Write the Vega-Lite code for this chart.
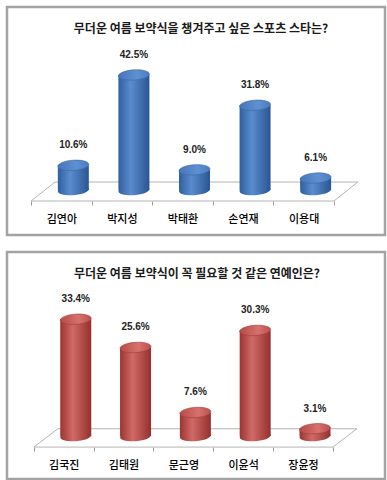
{
  "$schema": "https://vega.github.io/schema/vega-lite/v6.json",
  "background": "white",
  "padding": {"left": 5, "top": 5, "right": 0, "bottom": 0},
  "spacing": 13,
  "config": {
    "view": {"stroke": "#a3a3a3", "strokeWidth": 2.5},
    "font": "Noto Sans CJK KR"
  },
  "datasets": {
    "sports": [
      {"name": "김연아", "pct": 0.106},
      {"name": "박지성", "pct": 0.425},
      {"name": "박태환", "pct": 0.090},
      {"name": "손연재", "pct": 0.318},
      {"name": "이용대", "pct": 0.061}
    ],
    "celeb": [
      {"name": "김국진", "pct": 0.334},
      {"name": "김태원", "pct": 0.256},
      {"name": "문근영", "pct": 0.076},
      {"name": "이윤석", "pct": 0.303},
      {"name": "장윤정", "pct": 0.031}
    ],
    "one": [{"k": 1}]
  },
  "vconcat": [
    {
      "width": 378,
      "height": 228,
      "title": {"text": "무더운 여름 보약식을 챙겨주고 싶은 스포츠 스타는?", "fontSize": 12, "fontWeight": "bold", "color": "#1a1a1a", "font": "Noto Sans CJK KR", "baseline": "middle", "offset": -34, "dx": 5},
      "layer": [
        {"data": {"name": "sports"},
         "mark": {"type": "bar", "width": 31, "xOffset": 12, "opacity": 0},
         "encoding": {
           "x": {"field": "name", "type": "nominal",
             "scale": {"domain": ["김연아", "박지성", "박태환", "손연재", "이용대"], "paddingInner": 0, "paddingOuter": 0.62, "align": 0.32},
             "axis": {"orient": "bottom", "offset": -34, "domain": false, "ticks": true, "tickBand": "extent", "tickSize": 4, "tickColor": "#9a9a9a", "labelFontSize": 11, "labelFontWeight": 500, "labelPadding": 8, "labelAngle": 0, "labelColor": "#000", "labelFont": "Noto Sans CJK KR", "title": null, "grid": false}},
           "y": {"field": "pct", "type": "quantitative", "scale": {"domain": [-0.14, 0.665], "nice": false, "zero": false}, "axis": null},
           "y2": {"datum": 0.0187}}},
        {"data": {"name": "one"},
         "mark": {"type": "rule", "color": "#b5b5b5", "strokeWidth": 1},
         "encoding": {"x": {"datum": "김연아", "bandPosition": 0}, "x2": {"datum": "이용대", "bandPosition": 1}, "y": {"datum": -0.02}}},
        {"data": {"name": "one"},
         "mark": {"type": "rule", "color": "#b5b5b5", "strokeWidth": 1, "xOffset": 24, "x2Offset": 24},
         "encoding": {"x": {"datum": "김연아", "bandPosition": 0}, "x2": {"datum": "이용대", "bandPosition": 1}, "y": {"datum": 0.047}}},
        {"data": {"name": "one"},
         "mark": {"type": "rule", "color": "#b5b5b5", "strokeWidth": 1, "x2Offset": 24},
         "encoding": {"x": {"datum": "김연아", "bandPosition": 0}, "x2": {"datum": "김연아", "bandPosition": 0}, "y": {"datum": -0.02}, "y2": {"datum": 0.047}}},
        {"data": {"name": "one"},
         "mark": {"type": "rule", "color": "#b5b5b5", "strokeWidth": 1, "x2Offset": 24},
         "encoding": {"x": {"datum": "이용대", "bandPosition": 1}, "x2": {"datum": "이용대", "bandPosition": 1}, "y": {"datum": -0.02}, "y2": {"datum": 0.047}}},
        {"data": {"name": "sports"},
         "mark": {"type": "point", "shape": "M-1,0A1,0.33,0,1,1,1,0A1,0.33,0,1,1,-1,0Z", "size": 961, "xOffset": 12, "angle": -4, "filled": true, "opacity": 1,
           "fill": {"gradient": "linear", "x1": 0, "x2": 1, "y1": 0, "y2": 0, "stops": [{"offset": 0, "color": "#305f9f"}, {"offset": 0.4, "color": "#5a8cce"}, {"offset": 1, "color": "#2a5592"}]}},
         "encoding": {"x": {"field": "name", "type": "nominal"}, "y": {"datum": 0.0187}}},
        {"data": {"name": "sports"},
         "mark": {"type": "bar", "width": 31, "xOffset": 12,
           "fill": {"gradient": "linear", "x1": 0, "x2": 1, "y1": 0, "y2": 0, "stops": [{"offset": 0, "color": "#305f9f"}, {"offset": 0.4, "color": "#5a8cce"}, {"offset": 1, "color": "#2a5592"}]}},
         "encoding": {"x": {"field": "name", "type": "nominal"}, "y": {"field": "pct", "type": "quantitative"}, "y2": {"datum": 0.0187}}},
        {"data": {"name": "sports"},
         "mark": {"type": "point", "shape": "M-1,0A1,0.33,0,1,1,1,0A1,0.33,0,1,1,-1,0Z", "size": 961, "xOffset": 12, "angle": -4, "filled": true, "opacity": 1,
           "fill": {"gradient": "linear", "x1": 0, "x2": 1, "y1": 0, "y2": 0, "stops": [{"offset": 0, "color": "#4676b8"}, {"offset": 0.6, "color": "#5f90d2"}, {"offset": 1, "color": "#4a7cc0"}]},
           "stroke": "#3b68a8", "strokeWidth": 0.6},
         "encoding": {"x": {"field": "name", "type": "nominal"}, "y": {"field": "pct", "type": "quantitative"}}},
        {"data": {"name": "sports"},
         "mark": {"type": "text", "dy": -20, "xOffset": 12, "font": "Liberation Sans", "fontWeight": "bold", "fontSize": 10, "color": "#222", "baseline": "middle"},
         "encoding": {"x": {"field": "name", "type": "nominal"}, "y": {"field": "pct", "type": "quantitative"}, "text": {"field": "pct", "type": "quantitative", "format": ".1%"}}}
      ]
    },
    {
      "width": 378,
      "height": 227,
      "title": {"text": "무더운 여름 보약식이 꼭 필요할 것 같은 연예인은?", "fontSize": 12, "fontWeight": "bold", "color": "#1a1a1a", "font": "Noto Sans CJK KR", "baseline": "middle", "offset": -34, "dx": 1},
      "layer": [
        {"data": {"name": "celeb"},
         "mark": {"type": "bar", "width": 31, "xOffset": 12, "opacity": 0},
         "encoding": {
           "x": {"field": "name", "type": "nominal",
             "scale": {"domain": ["김국진", "김태원", "문근영", "이윤석", "장윤정"], "paddingInner": 0, "paddingOuter": 0.66, "align": 0.34},
             "axis": {"orient": "bottom", "offset": -32, "domain": false, "ticks": true, "tickBand": "extent", "tickSize": 4, "tickColor": "#9a9a9a", "labelFontSize": 11, "labelFontWeight": 500, "labelPadding": 8, "labelAngle": 0, "labelColor": "#000", "labelFont": "Noto Sans CJK KR", "title": null, "grid": false}},
           "y": {"field": "pct", "type": "quantitative", "scale": {"domain": [-0.108, 0.52], "nice": false, "zero": false}, "axis": null},
           "y2": {"datum": 0.0108}}},
        {"data": {"name": "one"},
         "mark": {"type": "rule", "color": "#b5b5b5", "strokeWidth": 1},
         "encoding": {"x": {"datum": "김국진", "bandPosition": 0}, "x2": {"datum": "장윤정", "bandPosition": 1}, "y": {"datum": -0.0197}}},
        {"data": {"name": "one"},
         "mark": {"type": "rule", "color": "#b5b5b5", "strokeWidth": 1, "xOffset": 24, "x2Offset": 24},
         "encoding": {"x": {"datum": "김국진", "bandPosition": 0}, "x2": {"datum": "장윤정", "bandPosition": 1}, "y": {"datum": 0.031}}},
        {"data": {"name": "one"},
         "mark": {"type": "rule", "color": "#b5b5b5", "strokeWidth": 1, "x2Offset": 24},
         "encoding": {"x": {"datum": "김국진", "bandPosition": 0}, "x2": {"datum": "김국진", "bandPosition": 0}, "y": {"datum": -0.0197}, "y2": {"datum": 0.031}}},
        {"data": {"name": "one"},
         "mark": {"type": "rule", "color": "#b5b5b5", "strokeWidth": 1, "x2Offset": 24},
         "encoding": {"x": {"datum": "장윤정", "bandPosition": 1}, "x2": {"datum": "장윤정", "bandPosition": 1}, "y": {"datum": -0.0197}, "y2": {"datum": 0.031}}},
        {"data": {"name": "celeb"},
         "mark": {"type": "point", "shape": "M-1,0A1,0.33,0,1,1,1,0A1,0.33,0,1,1,-1,0Z", "size": 961, "xOffset": 12, "angle": -4, "filled": true, "opacity": 1,
           "fill": {"gradient": "linear", "x1": 0, "x2": 1, "y1": 0, "y2": 0, "stops": [{"offset": 0, "color": "#9c3431"}, {"offset": 0.4, "color": "#d06a66"}, {"offset": 1, "color": "#94302d"}]}},
         "encoding": {"x": {"field": "name", "type": "nominal"}, "y": {"datum": 0.0108}}},
        {"data": {"name": "celeb"},
         "mark": {"type": "bar", "width": 31, "xOffset": 12,
           "fill": {"gradient": "linear", "x1": 0, "x2": 1, "y1": 0, "y2": 0, "stops": [{"offset": 0, "color": "#9c3431"}, {"offset": 0.4, "color": "#d06a66"}, {"offset": 1, "color": "#94302d"}]}},
         "encoding": {"x": {"field": "name", "type": "nominal"}, "y": {"field": "pct", "type": "quantitative"}, "y2": {"datum": 0.0108}}},
        {"data": {"name": "celeb"},
         "mark": {"type": "point", "shape": "M-1,0A1,0.33,0,1,1,1,0A1,0.33,0,1,1,-1,0Z", "size": 961, "xOffset": 12, "angle": -4, "filled": true, "opacity": 1,
           "fill": {"gradient": "linear", "x1": 0, "x2": 1, "y1": 0, "y2": 0, "stops": [{"offset": 0, "color": "#b84a47"}, {"offset": 0.6, "color": "#d6726e"}, {"offset": 1, "color": "#bd4f4c"}]},
           "stroke": "#a53c39", "strokeWidth": 0.6},
         "encoding": {"x": {"field": "name", "type": "nominal"}, "y": {"field": "pct", "type": "quantitative"}}},
        {"data": {"name": "celeb"},
         "mark": {"type": "text", "dy": -20, "xOffset": 12, "font": "Liberation Sans", "fontWeight": "bold", "fontSize": 10, "color": "#222", "baseline": "middle"},
         "encoding": {"x": {"field": "name", "type": "nominal"}, "y": {"field": "pct", "type": "quantitative"}, "text": {"field": "pct", "type": "quantitative", "format": ".1%"}}}
      ]
    }
  ]
}
